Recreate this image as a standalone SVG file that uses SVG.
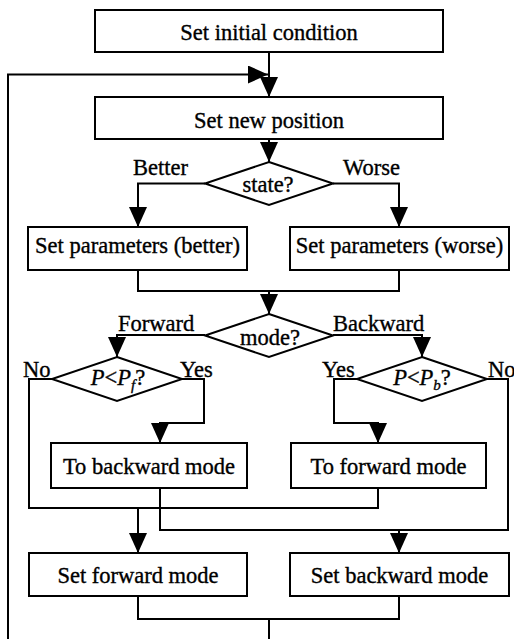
<svg xmlns="http://www.w3.org/2000/svg" width="514" height="639" viewBox="0 0 514 639">
<style>
.box{fill:#fff;stroke:#000;stroke-width:2}
.dia{fill:#fff;stroke:#000;stroke-width:2}
.ln{fill:none;stroke:#000;stroke-width:2}
.arr{marker-end:url(#ah)}
text{font-family:'Liberation Serif','Times New Roman',serif;font-size:22.5px;fill:#000;stroke:#000;stroke-width:0.35}
.c{text-anchor:middle}
</style>
<defs>
<marker id="ah" markerUnits="userSpaceOnUse" markerWidth="20" markerHeight="18" viewBox="0 0 20 18" refX="20" refY="9" orient="auto">
<path d="M0,0 L20,9 L0,18 z" fill="#000"/>
</marker>
</defs>
<rect width="514" height="639" fill="#fff"/>
<g id="connectors">
<path class="ln arr" d="M269,52 V97"/>
<path class="ln arr" d="M269,619 V660 H8 V74.5 H268"/>
<path class="ln arr" d="M269,139 V162"/>
<path class="ln arr" d="M205,183.5 H138 V227"/>
<path class="ln arr" d="M333,183.5 H399 V227"/>
<path class="ln" d="M138,270 V291 H399 V270"/>
<path class="ln arr" d="M269,291 V314"/>
<path class="ln arr" d="M205,335 H117 V357"/>
<path class="ln arr" d="M333,335 H422 V357"/>
<path class="ln" d="M52,379 H29 V508 H378 V488"/>
<path class="ln arr" d="M138,508 V553"/>
<path class="ln arr" d="M182,379 H204 V423 H160 V443"/>
<path class="ln arr" d="M357,379 H334 V423 H378 V443"/>
<path class="ln" d="M487,379 H508 V530 H160 V488"/>
<path class="ln arr" d="M399,530 V553"/>
<path class="ln" d="M138,596 V619 H399 V596"/>
</g>
<g id="n_init"><rect class="box" x="95" y="10" width="348" height="42"/><text class="c" x="269" y="40">Set initial condition</text></g>
<g id="n_newpos"><rect class="box" x="95" y="97" width="348" height="42"/><text class="c" x="269" y="128">Set new position</text></g>
<g id="n_state"><polygon class="dia" points="269,162 333,183.5 269,205 205,183.5"/><text class="c" x="268" y="192">state?</text></g>
<g id="lbl_better"><text x="133" y="175">Better</text></g>
<g id="lbl_worse"><text x="343" y="175">Worse</text></g>
<g id="n_pbetter"><rect class="box" x="28" y="227" width="219" height="43"/><text class="c" x="137.5" y="253">Set parameters (better)</text></g>
<g id="n_pworse"><rect class="box" x="290" y="227" width="219" height="43"/><text class="c" x="399.5" y="253">Set parameters (worse)</text></g>
<g id="n_mode"><polygon class="dia" points="269,314 333,335.5 269,357 205,335.5"/><text class="c" x="270" y="345">mode?</text></g>
<g id="lbl_forward"><text x="118" y="331">Forward</text></g>
<g id="lbl_backward"><text x="333" y="331">Backward</text></g>
<g id="n_pf"><polygon class="dia" points="117,357 182,379 117,401 52,379"/><text class="c" x="118" y="385"><tspan font-style="italic">P</tspan>&lt;<tspan font-style="italic">P</tspan><tspan font-style="italic" font-size="15" dy="5">f</tspan><tspan dy="-5">?</tspan></text></g>
<g id="lbl_no_l"><text x="23" y="377">No</text></g>
<g id="lbl_yes_l"><text x="180" y="377">Yes</text></g>
<g id="n_pb"><polygon class="dia" points="422,357 487,379 422,401 357,379"/><text class="c" x="422" y="385"><tspan font-style="italic">P</tspan>&lt;<tspan font-style="italic">P</tspan><tspan font-style="italic" font-size="15" dy="5">b</tspan><tspan dy="-5">?</tspan></text></g>
<g id="lbl_yes_r"><text x="322" y="377">Yes</text></g>
<g id="lbl_no_r"><text x="488" y="377">No</text></g>
<g id="n_tobwd"><rect class="box" x="51" y="443" width="196" height="45"/><text class="c" x="149" y="474">To backward mode</text></g>
<g id="n_tofwd"><rect class="box" x="291" y="443" width="195" height="45"/><text class="c" x="388.5" y="474">To forward mode</text></g>
<g id="n_setfwd"><rect class="box" x="29" y="553" width="218" height="43"/><text class="c" x="138" y="583">Set forward mode</text></g>
<g id="n_setbwd"><rect class="box" x="290" y="553" width="219" height="43"/><text class="c" x="399.5" y="583">Set backward mode</text></g>
</svg>
